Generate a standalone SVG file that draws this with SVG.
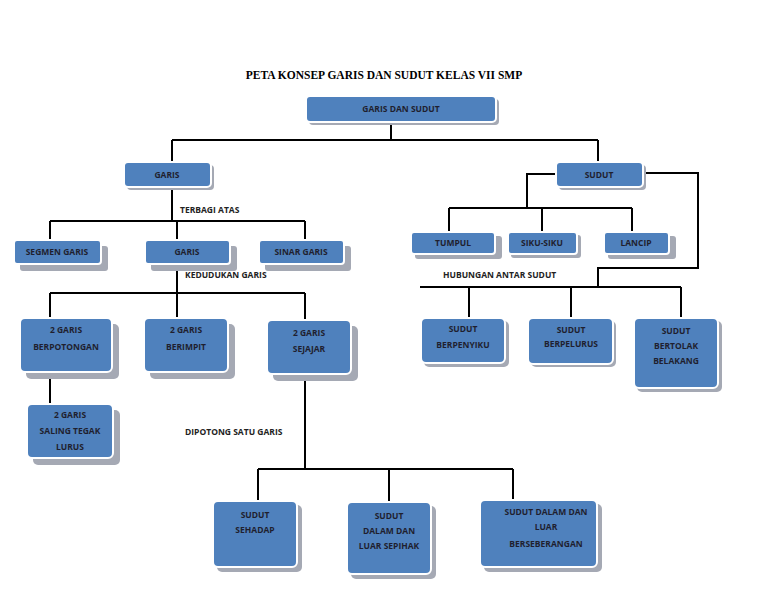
<svg xmlns="http://www.w3.org/2000/svg" width="768" height="594" viewBox="0 0 768 594">
<style>
.b{fill:#4F81BD;stroke:#fff;stroke-width:2}
.s{fill:#A5A9B4}
.t{font-family:"Open Sans","DejaVu Sans",sans-serif;font-size:8.5px;font-weight:bold;fill:#1F1F2F;text-anchor:middle}
.l{font-family:"Open Sans","DejaVu Sans",sans-serif;font-size:8.5px;font-weight:bold;fill:#222}
.c{fill:none;stroke:#000;stroke-width:2}
</style>
<rect width="768" height="594" fill="#fff"/>
<text x="384" y="79" font-family="Liberation Serif,serif" font-weight="bold" font-size="11.5" text-anchor="middle">PETA KONSEP GARIS DAN SUDUT KELAS VII SMP</text>
<g id="connectors">
<path class="c" d="M391 122V140M172 140H598M172 140V162M598 140V162"/>
<path class="c" d="M172 187V221M50 221H305M50 221V240M177 221V240M305 221V240"/>
<path class="c" d="M177 264V293M50 293H305M50 293V318M177 293V318M305 293V320"/>
<path class="c" d="M50 372V404"/>
<path class="c" d="M305 374V469M258 469H513M258 469V501M389 469V502M513 469V500"/>
<path class="c" d="M556 174H527V208M449 208H632M449 208V232M542 208V232M632 208V232"/>
<path class="c" d="M643 173H698V268H598V287M420 287H681M469 287V318M571 287V318M681 287V318"/>
</g>
<g class="l">
<text x="180" y="213">TERBAGI ATAS</text>
<text x="185" y="278">KEDUDUKAN GARIS</text>
<text x="185" y="435">DIPOTONG SATU GARIS</text>
<text x="443" y="278">HUBUNGAN ANTAR SUDUT</text>
</g>
<g id="n-root"><rect class="s" x="309" y="99" width="190" height="26" rx="4"/><rect class="b" x="306" y="96" width="190" height="26" rx="4"/><text class="t" x="401" y="112">GARIS DAN SUDUT</text></g>
<g id="n-garis"><rect class="s" x="127" y="165" width="87" height="25" rx="4"/><rect class="b" x="124" y="162" width="87" height="25" rx="4"/><text class="t" x="167" y="178">GARIS</text></g>
<g id="n-sudut"><rect class="s" x="559" y="165" width="87" height="25" rx="4"/><rect class="b" x="556" y="162" width="87" height="25" rx="4"/><text class="t" x="599" y="178">SUDUT</text></g>
<g id="n-segmen"><rect class="s" x="20" y="246" width="88" height="25" rx="3"/><rect class="b" x="14" y="240" width="87" height="24" rx="3"/><text class="t" x="57" y="255">SEGMEN GARIS</text></g>
<g id="n-garis2"><rect class="s" x="151" y="246" width="86" height="25" rx="3"/><rect class="b" x="145" y="240" width="85" height="24" rx="3"/><text class="t" x="187" y="255">GARIS</text></g>
<g id="n-sinar"><rect class="s" x="265" y="246" width="86" height="25" rx="3"/><rect class="b" x="259" y="240" width="85" height="24" rx="3"/><text class="t" x="301" y="255">SINAR GARIS</text></g>
<g id="n-berpotongan"><rect class="s" x="26" y="324" width="93" height="55" rx="5"/><rect class="b" x="20" y="318" width="92" height="54" rx="5"/><text class="t" x="66" y="333">2 GARIS</text><text class="t" x="66" y="350">BERPOTONGAN</text></g>
<g id="n-berimpit"><rect class="s" x="150" y="324" width="85" height="55" rx="5"/><rect class="b" x="144" y="318" width="84" height="54" rx="5"/><text class="t" x="186" y="333">2 GARIS</text><text class="t" x="186" y="350">BERIMPIT</text></g>
<g id="n-sejajar"><rect class="s" x="273" y="326" width="85" height="55" rx="5"/><rect class="b" x="267" y="320" width="84" height="54" rx="5"/><text class="t" x="309" y="336">2 GARIS</text><text class="t" x="309" y="352">SEJAJAR</text></g>
<g id="n-tegak"><rect class="s" x="33" y="410" width="87" height="55" rx="5"/><rect class="b" x="27" y="404" width="86" height="54" rx="5"/><text class="t" x="70" y="418">2 GARIS</text><text class="t" x="70" y="434">SALING TEGAK</text><text class="t" x="70" y="450">LURUS</text></g>
<g id="n-sehadap"><rect class="s" x="217" y="505" width="85" height="67" rx="5"/><rect class="b" x="213" y="501" width="84" height="66" rx="5"/><text class="t" x="255" y="518">SUDUT</text><text class="t" x="255" y="533">SEHADAP</text></g>
<g id="n-sepihak"><rect class="s" x="351" y="506" width="85" height="73" rx="5"/><rect class="b" x="347" y="502" width="84" height="72" rx="5"/><text class="t" x="389" y="519">SUDUT</text><text class="t" x="389" y="534">DALAM DAN</text><text class="t" x="389" y="549">LUAR SEPIHAK</text></g>
<g id="n-berseberangan"><rect class="s" x="484" y="504" width="118" height="68" rx="5"/><rect class="b" x="480" y="500" width="117" height="67" rx="5"/><text class="t" x="546" y="515">SUDUT DALAM DAN</text><text class="t" x="546" y="530">LUAR</text><text class="t" x="546" y="547">BERSEBERANGAN</text></g>
<g id="n-tumpul"><rect class="s" x="415" y="236" width="87" height="23" rx="3"/><rect class="b" x="411" y="232" width="84" height="22" rx="3"/><text class="t" x="453" y="246">TUMPUL</text></g>
<g id="n-siku"><rect class="s" x="511" y="235" width="70" height="23" rx="3"/><rect class="b" x="508" y="232" width="69" height="22" rx="3"/><text class="t" x="542" y="246">SIKU-SIKU</text></g>
<g id="n-lancip"><rect class="s" x="608" y="236" width="68" height="23" rx="3"/><rect class="b" x="604" y="232" width="65" height="22" rx="3"/><text class="t" x="636" y="246">LANCIP</text></g>
<g id="n-berpenyiku"><rect class="s" x="424" y="321" width="85" height="46" rx="5"/><rect class="b" x="421" y="318" width="84" height="45" rx="5"/><text class="t" x="463" y="332">SUDUT</text><text class="t" x="463" y="348">BERPENYIKU</text></g>
<g id="n-berpelurus"><rect class="s" x="531" y="321" width="85" height="46" rx="5"/><rect class="b" x="528" y="318" width="85" height="46" rx="5"/><text class="t" x="571" y="333">SUDUT</text><text class="t" x="571" y="347">BERPELURUS</text></g>
<g id="n-bertolak"><rect class="s" x="637" y="321" width="85" height="71" rx="5"/><rect class="b" x="634" y="318" width="84" height="70" rx="5"/><text class="t" x="676" y="334">SUDUT</text><text class="t" x="676" y="349">BERTOLAK</text><text class="t" x="676" y="364">BELAKANG</text></g>
</svg>
